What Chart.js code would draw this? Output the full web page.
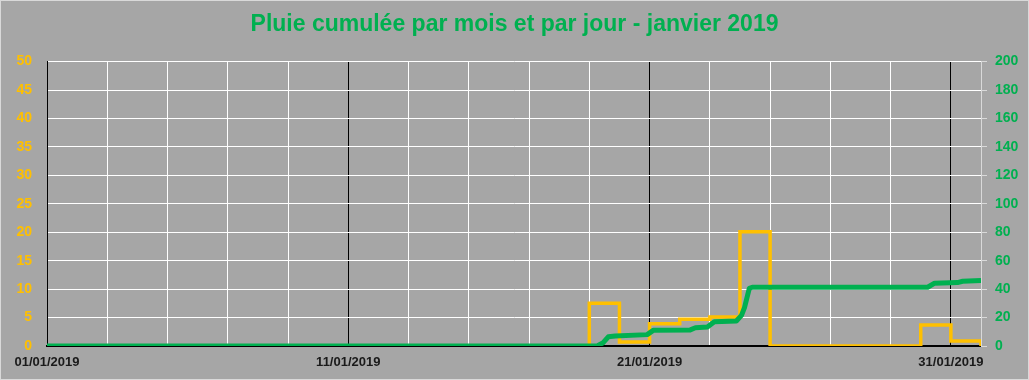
<!DOCTYPE html>
<html>
<head>
<meta charset="utf-8">
<script src="https://cdn.jsdelivr.net/npm/chart.js@4/dist/chart.umd.min.js"></script>
<style>
  html, body { margin: 0; padding: 0; background: #A6A6A6; }
  #wrap { width: 1029px; height: 380px; }
</style>
</head>
<body>
<div id="wrap"><canvas id="c" width="1029" height="380"></canvas></div>
<script>
// Daily rainfall (mm), one value per day of January 2019 (left axis)
const dailyRain = [0,0,0,0,0,0,0,0,0,0, 0,0,0,0,0,0,0,0,7.5,0.7, 3.9,4.7,5.1,20.1,0,0,0,0,0,3.7, 0.9];
// Cumulative rainfall (mm), right axis: time in days since 01/01 00:00, and value
const cumulDays   = [0, 18.26, 18.46, 18.63, 18.86, 19.92, 20.12, 21.35, 21.52, 21.92, 22.15, 22.88, 23.05, 23.15, 23.31, 23.41, 29.23, 29.46, 30.22, 30.39, 31];
const cumulValues = [0, 0,     2.3,   6.5,   7.0,   8.0,   11.0,  11.3,  12.8,  13.3,  17.0,  17.6,  21.5,  27.0,  40.5,  41.3,  41.3,  44.2,  44.6,  45.5,  46];
// X tick labels (day offset -> label)
const xLabelDays = [0, 10, 20, 30];
const xLabels = ['01/01/2019', '11/01/2019', '21/01/2019', '31/01/2019'];
const titleText = 'Pluie cumulée par mois et par jour - janvier 2019';

const orangeData = dailyRain.map((v, i) => ({ x: i, y: v }));
orangeData.push({ x: dailyRain.length, y: 0 });
const greenData = cumulDays.map((d, i) => ({ x: d, y: cumulValues[i] }));

const bgPlugin = {
  id: 'bg',
  beforeDraw(chart) {
    const ctx = chart.ctx;
    ctx.save();
    ctx.fillStyle = '#A6A6A6';
    ctx.fillRect(0, 0, chart.width, chart.height);
    ctx.strokeStyle = '#D9D9D9';
    ctx.lineWidth = 1;
    ctx.strokeRect(0.5, 0.5, chart.width - 1, chart.height - 1);
    ctx.restore();
  }
};

new Chart(document.getElementById('c'), {
  type: 'line',
  data: {
    datasets: [
      {
        label: 'cumul',
        data: greenData,
        yAxisID: 'y2',
        borderColor: '#00B050',
        borderWidth: 5,
        pointRadius: 0,
        borderJoinStyle: 'round',
        tension: 0
      },
      {
        label: 'jour',
        data: orangeData,
        yAxisID: 'y',
        borderColor: '#FFC000',
        borderWidth: 3.5,
        pointRadius: 0,
        stepped: 'before',
        borderJoinStyle: 'miter'
      }
    ]
  },
  options: {
    responsive: false,
    animation: false,
    layout: { padding: 0 },
    plugins: {
      legend: { display: false },
      tooltip: { enabled: false },
      title: {
        display: true,
        text: titleText,
        color: '#00B050',
        font: { family: 'Liberation Sans', size: 23, weight: 'bold' },
        padding: { top: 11, bottom: 23 }
      }
    },
    scales: {
      x: {
        type: 'linear',
        min: 0,
        max: 31,
        afterBuildTicks(scale) {
          const t = [];
          for (let v = 0; v <= 30; v += 2) t.push({ value: v });
          t.push({ value: 31 });
          scale.ticks = t;
        },
        afterFit(scale) { scale.height = 34; },
        grid: {
          color: ctx => {
            const v = ctx.tick ? ctx.tick.value : -1;
            if (v === 31) return 'rgba(0,0,0,0)';
            return v % 10 === 0 ? '#000000' : '#FFFFFF';
          },
          lineWidth: 1,
          drawTicks: false
        },
        border: { color: '#000000', width: 2 },
        ticks: {
          autoSkip: false,
          maxRotation: 0,
          padding: 9,
          color: '#1a1a1a',
          font: { family: 'Liberation Sans', size: 13, weight: 'bold' },
          callback: v => {
            const i = xLabelDays.indexOf(v);
            return i >= 0 ? xLabels[i] : '';
          }
        }
      },
      y: {
        position: 'left',
        min: 0,
        max: 50,
        afterFit(scale) { scale.width = 47; },
        ticks: {
          stepSize: 5,
          padding: 15,
          color: '#FFC000',
          font: { family: 'Liberation Sans', size: 14, weight: 'bold' }
        },
        grid: {
          color: ctx => (ctx.tick && ctx.tick.value === 0) ? 'rgba(0,0,0,0)' : '#FFFFFF',
          lineWidth: 1,
          drawTicks: false
        },
        border: { color: '#000000', width: 1 }
      },
      y2: {
        position: 'right',
        min: 0,
        max: 200,
        afterFit(scale) { scale.width = 48; },
        ticks: {
          stepSize: 20,
          padding: 8,
          color: '#00B050',
          font: { family: 'Liberation Sans', size: 14, weight: 'bold' }
        },
        grid: {
          drawOnChartArea: false,
          drawTicks: true,
          tickLength: 6,
          color: '#D9D9D9'
        },
        border: { color: '#D9D9D9', width: 1 }
      }
    }
  },
  plugins: [bgPlugin]
});
</script>
</body>
</html>
